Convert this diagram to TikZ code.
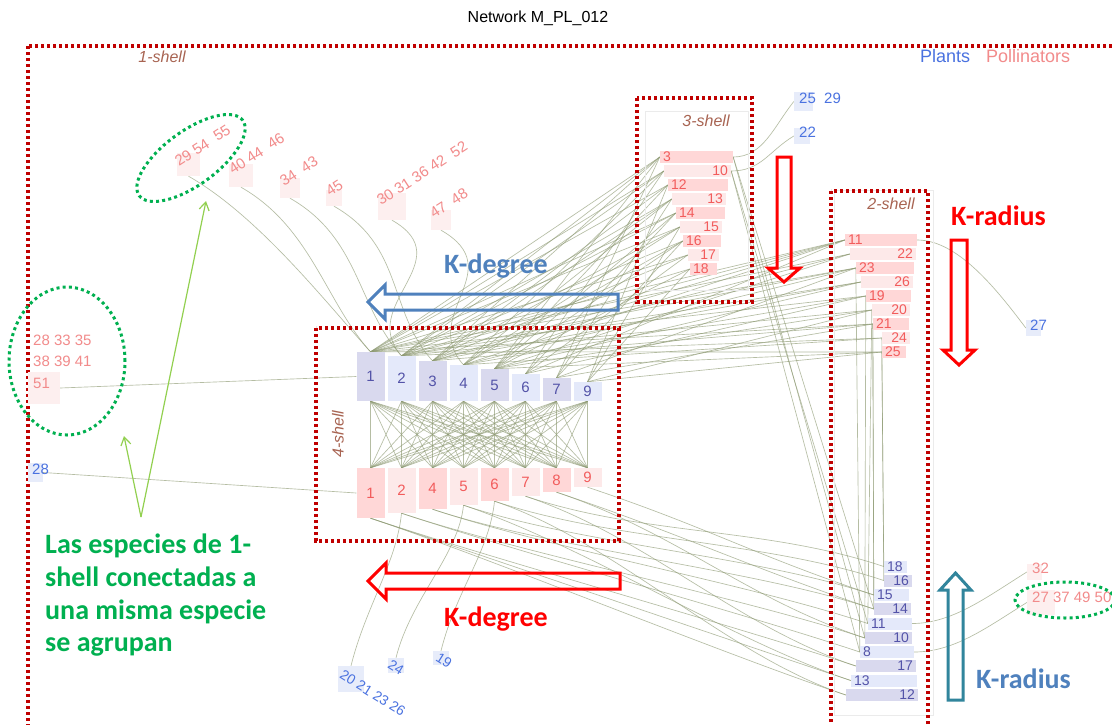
\documentclass[tikz,border=0pt]{standalone}
\usepackage{fontspec}
\setmainfont{Liberation Sans}
\newfontfamily\calib{Carlito}
\usetikzlibrary{arrows.meta}
\newcommand{\fsz}[1]{\fontsize{#1}{#1}\selectfont}
\definecolor{shellred}{HTML}{C00000}
\definecolor{shelltxt}{HTML}{A86452}
\definecolor{pollt}{HTML}{F25C5C}
\definecolor{pollt1}{HTML}{F28B8B}
\definecolor{plantt}{HTML}{5353A8}
\definecolor{plantt1}{HTML}{4A72E0}
\definecolor{pinkD}{HTML}{FFD7D7}
\definecolor{pinkL}{HTML}{FDE9E9}
\definecolor{blueD}{HTML}{D9D9EE}
\definecolor{blueL}{HTML}{E4E9FA}
\definecolor{frectc}{HTML}{FDEFEF}
\definecolor{grectc}{HTML}{E7ECFA}
\definecolor{edgec}{HTML}{8E9A73}
\definecolor{grn}{HTML}{00B050}
\definecolor{lgrn}{HTML}{92D050}
\definecolor{kblue}{HTML}{4F81BD}
\definecolor{kteal}{HTML}{31859C}
\definecolor{kred}{HTML}{FF0000}
\pgfdeclarelayer{edges}
\pgfsetlayers{edges,main}
\begin{document}
\begin{tikzpicture}[x=1pt,y=-1pt,
  pbase/.style={rectangle, inner xsep=3pt, inner ysep=0pt, minimum height=12pt, font=\fsz{14}},
  pd/.style={pbase, fill=pinkD, text=pollt},
  pl/.style={pbase, fill=pinkL, text=pollt},
  ad/.style={pbase, fill=blueD, text=plantt},
  al/.style={pbase, fill=blueL, text=plantt},
  colA/.style={minimum width=28pt, inner sep=0pt, font=\fsz{15}},
  lnk/.style={draw=edgec, line width=0.65pt, opacity=0.65},
  shellbox/.style={draw=shellred, line width=3.3pt, dash pattern=on 3.3pt off 2.7pt},
  shelllab/.style={text=shelltxt, font=\fsz{16}\itshape},
  faint/.style={draw=black!8, line width=0.8pt},
  grpell/.style={draw=grn, line width=3pt, dash pattern=on 3pt off 3.2pt},
  frect/.style={rectangle, fill=frectc, inner sep=0pt},
  grect/.style={rectangle, fill=grectc, inner sep=0pt},
  ftext/.style={text=pollt1, font=\fsz{15}, inner sep=0pt},
  gtext/.style={text=plantt1, font=\fsz{15}, inner sep=0pt},
  bigarrow/.style={line width=3pt, line join=miter},
  klab/.style={font=\calib\bfseries\fsz{28}, anchor=base west, inner sep=0pt},
  gtxt/.style={font=\calib\bfseries\fsz{28}, text=grn, anchor=base west, inner sep=0pt},
  garrow/.style={draw=lgrn, line width=1.2pt, -{Straight Barb[length=8pt,width=10pt]}}
]
\useasboundingbox (0,0) rectangle (1112,724);
\begin{pgfonlayer}{edges}
\fill[white] (0,0) rectangle (1112,724);
\end{pgfonlayer}

% title and legend
\node[font=\fsz{16}] (title) at (538,18) {Network M\_PL\_012};
\node[anchor=base west, font=\fsz{18}, text=plantt1, inner sep=0pt] (legP) at (920,62) {Plants};
\node[anchor=base west, font=\fsz{18}, text=pollt1, inner sep=0pt] (legQ) at (986,62) {Pollinators};

% shell boxes
\draw[shellbox] (28,46) rectangle (1140,760);
\node[shelllab] (l1) at (162,57) {1-shell};
\draw[faint] (645,111) rectangle (748,290);
\draw[shellbox] (637,98) rectangle (752,302);
\node[shelllab] (l3) at (706,121) {3-shell};
\draw[faint] (834,190) rectangle (933,715);
\draw[shellbox] (831,191) rectangle (928,760);
\node[shelllab] (l2) at (891,204) {2-shell};
\draw[shellbox] (316,328) rectangle (619,541);
\node[shelllab, rotate=90] (l4) at (338,434) {4-shell};

% 3-shell pollinators
\node[pd, text width=67pt, align=left]  (C3)  at (696.5,157) {3};
\node[pl, text width=61pt, align=right] (C10) at (697.5,171) {10};
\node[pd, text width=54pt, align=left]  (C12) at (698,185) {12};
\node[pl, text width=48pt, align=right] (C13) at (699,199) {13};
\node[pd, text width=43pt, align=left]  (C14) at (700.5,213) {14};
\node[pl, text width=36pt, align=right] (C15) at (701,227) {15};
\node[pd, text width=32pt, align=left]  (C16) at (702,241) {16};
\node[pl, text width=25pt, align=right] (C17) at (703.5,255) {17};
\node[pd, text width=21pt, align=left]  (C18) at (703.5,269) {18};

% 2-shell pollinators
\node[pd, text width=66pt, align=left]  (D11) at (881,240) {11};
\node[pl, text width=60pt, align=right] (D22) at (883,254) {22};
\node[pd, text width=52pt, align=left]  (D23) at (885,268) {23};
\node[pl, text width=46pt, align=right] (D26) at (887,282) {26};
\node[pd, text width=39pt, align=left]  (D19) at (888.5,296) {19};
\node[pl, text width=32pt, align=right] (D20) at (891,310) {20};
\node[pd, text width=30pt, align=left]  (D21) at (891,324) {21};
\node[pl, text width=22pt, align=right] (D24) at (896,338) {24};
\node[pd, text width=18pt, align=left]  (D25) at (894,352) {25};

% 2-shell plants
\node[al, text width=17pt, align=left]  (E18) at (895.5,566.5) {18};
\node[ad, text width=22pt, align=right] (E16) at (898,580.5) {16};
\node[al, text width=29pt, align=left]  (E15) at (891.5,595) {15};
\node[ad, text width=31pt, align=right] (E14) at (892.5,609) {14};
\node[al, text width=38pt, align=left]  (E11) at (890,623.5) {11};
\node[ad, text width=41pt, align=right] (E10) at (888.5,638) {10};
\node[al, text width=48pt, align=left]  (E8)  at (887,652) {8};
\node[ad, text width=54pt, align=right] (E17) at (886,666) {17};
\node[al, text width=60pt, align=left]  (E13) at (884,680.5) {13};
\node[ad, text width=66pt, align=right] (E12) at (882,695) {12};

% 4-shell plants
\node[ad, colA, minimum height=49pt] (A1) at (370.5,376.5) {1};
\node[al, colA, minimum height=45pt] (A2) at (401.5,378.5) {2};
\node[ad, colA, minimum height=40pt] (A3) at (432.5,381) {3};
\node[al, colA, minimum height=36pt] (A4) at (463.5,383) {4};
\node[ad, colA, minimum height=32pt] (A5) at (494.5,385) {5};
\node[al, colA, minimum height=27pt] (A6) at (525.5,387.5) {6};
\node[ad, colA, minimum height=23pt] (A7) at (556.5,389.5) {7};
\node[al, colA, minimum height=19pt] (A9) at (587.5,391.5) {9};

% 4-shell pollinators
\node[pd, colA, minimum height=50pt] (B1) at (370.5,493) {1};
\node[pl, colA, minimum height=45pt] (B2) at (401.5,490.5) {2};
\node[pd, colA, minimum height=41pt] (B4) at (432.5,488.5) {4};
\node[pl, colA, minimum height=37pt] (B5) at (463.5,486.5) {5};
\node[pd, colA, minimum height=33pt] (B6) at (494.5,484.5) {6};
\node[pl, colA, minimum height=28pt] (B7) at (525.5,482) {7};
\node[pd, colA, minimum height=24pt] (B8) at (556.5,480) {8};
\node[pl, colA, minimum height=19pt] (B9) at (587.5,477.5) {9};

% 1-shell pollinators
\node[frect, minimum width=23pt, minimum height=23pt] (F29) at (188.5,164.5) {};
\node[frect, minimum width=24pt, minimum height=23pt] (F40) at (241,175.5) {};
\node[frect, minimum width=20pt, minimum height=20pt] (F34) at (290,188) {};
\node[frect, minimum width=16pt, minimum height=16pt] (F45) at (334,198) {};
\node[frect, minimum width=28pt, minimum height=27pt] (F30) at (392,206.5) {};
\node[frect, minimum width=20pt, minimum height=20pt] (F47) at (441,220) {};
\node[frect, minimum width=32pt, minimum height=32pt] (F51) at (44,388) {};
\node[frect, minimum width=15pt, minimum height=16pt] (F32) at (1034.5,572) {};
\node[frect, minimum width=28pt, minimum height=25pt] (F27) at (1041,602.5) {};
\node[ftext, rotate=33, anchor=base west] (tF29) at (179,167) {29 54 \ 55};
\node[ftext, rotate=33, anchor=base west] (tF40) at (233,175) {40 44 \ 46};
\node[ftext, rotate=33, anchor=base west] (tF34) at (284,187) {34 \ 43};
\node[ftext, rotate=33, anchor=base west] (tF45) at (330,197) {45};
\node[ftext, rotate=33, anchor=base west] (tF30) at (381,206) {30 31 36 42 \ 52};
\node[ftext, rotate=33, anchor=base west] (tF47) at (434,219) {47 \ 48};
\node[ftext, anchor=base west] (tF28) at (33,345) {28 33 35};
\node[ftext, anchor=base west] (tF38) at (33,366) {38 39 41};
\node[ftext, anchor=base west] (tF51) at (33,388) {51};
\node[ftext, anchor=base west] (tF32) at (1032,573) {32};
\node[ftext, anchor=base west] (tF27) at (1032,602) {27 37 49 50};

% 1-shell plants
\node[grect, minimum width=19pt, minimum height=19pt] (G25) at (803.5,101.5) {};
\node[grect, minimum width=16pt, minimum height=16pt] (G22) at (802,136) {};
\node[grect, minimum width=15pt, minimum height=16pt] (G27) at (1033.5,328) {};
\node[grect, minimum width=15pt, minimum height=19pt] (G28) at (35.5,472.5) {};
\node[grect, minimum width=26pt, minimum height=26pt] (G20) at (351,679) {};
\node[grect, minimum width=16pt, minimum height=15pt] (G24) at (396,665.5) {};
\node[grect, minimum width=16pt, minimum height=14pt] (G19) at (441,658) {};
\node[gtext, anchor=base west] (tG25) at (799,103) {25 \ 29};
\node[gtext, anchor=base west] (tG22) at (799,137) {22};
\node[gtext, anchor=base west] (tG27) at (1030,330) {27};
\node[gtext, anchor=base west] (tG28) at (32,474) {28};
\node[gtext, font=\fsz{14}, rotate=-32, anchor=north west] (tG20) at (344,669) {20 21 23 26};
\node[gtext, font=\fsz{14}, rotate=-32, anchor=north west] (tG24) at (392,659) {24};
\node[gtext, font=\fsz{14}, rotate=-32, anchor=north west] (tG19) at (440,652) {19};

% edges
\begin{pgfonlayer}{edges}
\foreach \a in {1,2,3,4,5,6,7,9}
  \foreach \b in {1,2,4,5,6,7,8,9}
    \draw[lnk] (A\a.south) -- (B\b.north);
\foreach \s/\t in {3/1,3/2,3/3,3/5,3/7,10/1,10/2,10/4,10/6,12/1,12/3,12/5,12/9,
  13/2,13/3,13/4,13/7,14/1,14/2,14/5,14/6,15/1,15/3,15/4,15/9,16/2,16/4,16/5,16/7,
  17/1,17/3,17/6,18/2,18/5,18/9}
  \draw[lnk] (C\s.west) -- (A\t.north);
\foreach \s/\t in {11/1,11/2,11/3,11/4,11/6,22/1,22/3,22/5,23/1,23/2,23/4,23/7,
  26/2,26/3,26/5,19/1,19/4,19/6,20/2,20/5,20/9,21/1,21/3,21/7,24/2,24/4,25/1,25/5,25/9}
  \draw[lnk] (D\s.west) -- (A\t.north);
\foreach \s/\t in {19/10,20/11,21/14,21/15,24/16,25/18,23/8}
  \draw[lnk] (D\s.west) -- (E\t.west);
\foreach \s/\t in {3/10,3/14,10/11,10/8}
  \draw[lnk] (C\s.east) -- (E\t.west);
\foreach \s/\t in {1/12,1/13,1/17,2/8,2/10,4/11,4/14,5/15,5/13,6/16,6/12,7/18,7/17,8/10,8/14,9/15}
  \draw[lnk] (B\s.south) .. controls +(120,40) and +(-120,-40) .. (E\t.west);
\foreach \s/\t in {29/1,40/1,34/2,45/3,30/2,47/4}
  \draw[lnk] (F\s.south) .. controls +(70,40) and +(-45,-50) .. (A\t.north);
\draw[lnk] (F51.east) -- (A1.west);
\draw[lnk] (G28.east) -- (B1.west);
\draw[lnk] (C3.east) .. controls +(30,0) and +(-20,25) .. (G25.west);
\draw[lnk] (C10.east) .. controls +(30,0) and +(-25,15) .. (G22.west);
\draw[lnk] (D11.east) .. controls +(40,0) and +(-30,-40) .. (G27.west);
\draw[lnk] (E11.east) .. controls +(40,0) and +(-40,25) .. (F32.west);
\draw[lnk] (E8.east) .. controls +(40,0) and +(-40,25) .. (F27.west);
\draw[lnk] (G20.north) .. controls +(15,-60) and +(-5,50) .. (B2.south);
\draw[lnk] (G24.north) .. controls +(15,-60) and +(-5,50) .. (B5.south);
\draw[lnk] (G19.north) .. controls +(15,-60) and +(-5,50) .. (B6.south);
\end{pgfonlayer}

% group ellipses
\draw[grpell, rotate around={36:(191,158)}] (191,158) ellipse [x radius=64pt, y radius=27pt];
\draw[grpell] (67,361) ellipse [x radius=58pt, y radius=74pt];
\draw[grpell] (1065,600) ellipse [x radius=50pt, y radius=18pt];

% big arrows
\draw[bigarrow, draw=kblue] (618,294) -- (385,294) -- (385,285) -- (368,302) -- (385,319) -- (385,310) -- (618,310) -- cycle;
\draw[bigarrow, draw=kred] (620,573) -- (386,573) -- (386,563) -- (368,581) -- (386,599) -- (386,589) -- (620,589) -- cycle;
\draw[bigarrow, draw=kred] (777,157) -- (791,157) -- (791,268) -- (800,268) -- (784,282) -- (768,268) -- (777,268) -- cycle;
\draw[bigarrow, draw=kred] (951,240) -- (967,240) -- (967,350) -- (975,350) -- (959,365) -- (943,350) -- (951,350) -- cycle;
\draw[bigarrow, draw=kteal] (948,700) -- (963,700) -- (963,590) -- (971,590) -- (955.5,573) -- (940,590) -- (948,590) -- cycle;
\node[klab, text=kblue] (kd1) at (444,273) {K-degree};
\node[klab, text=kred] (kd2) at (444,626) {K-degree};
\node[klab, text=kred] (kr1) at (951,225) {K-radius};
\node[klab, text=kblue] (kr2) at (976,688) {K-radius};

% green note
\node[gtxt] (g1) at (45,553) {Las especies de 1-};
\node[gtxt] (g2) at (45,586) {shell conectadas a};
\node[gtxt] (g3) at (45,619) {una misma especie};
\node[gtxt] (g4) at (45,651) {se agrupan};
\coordinate (gA) at (141,517);
\coordinate (gB) at (206,201);
\coordinate (gC) at (124,436);
\draw[garrow] (gA) -- (gB);
\draw[garrow] (gA) -- (gC);
\end{tikzpicture}
\end{document}
